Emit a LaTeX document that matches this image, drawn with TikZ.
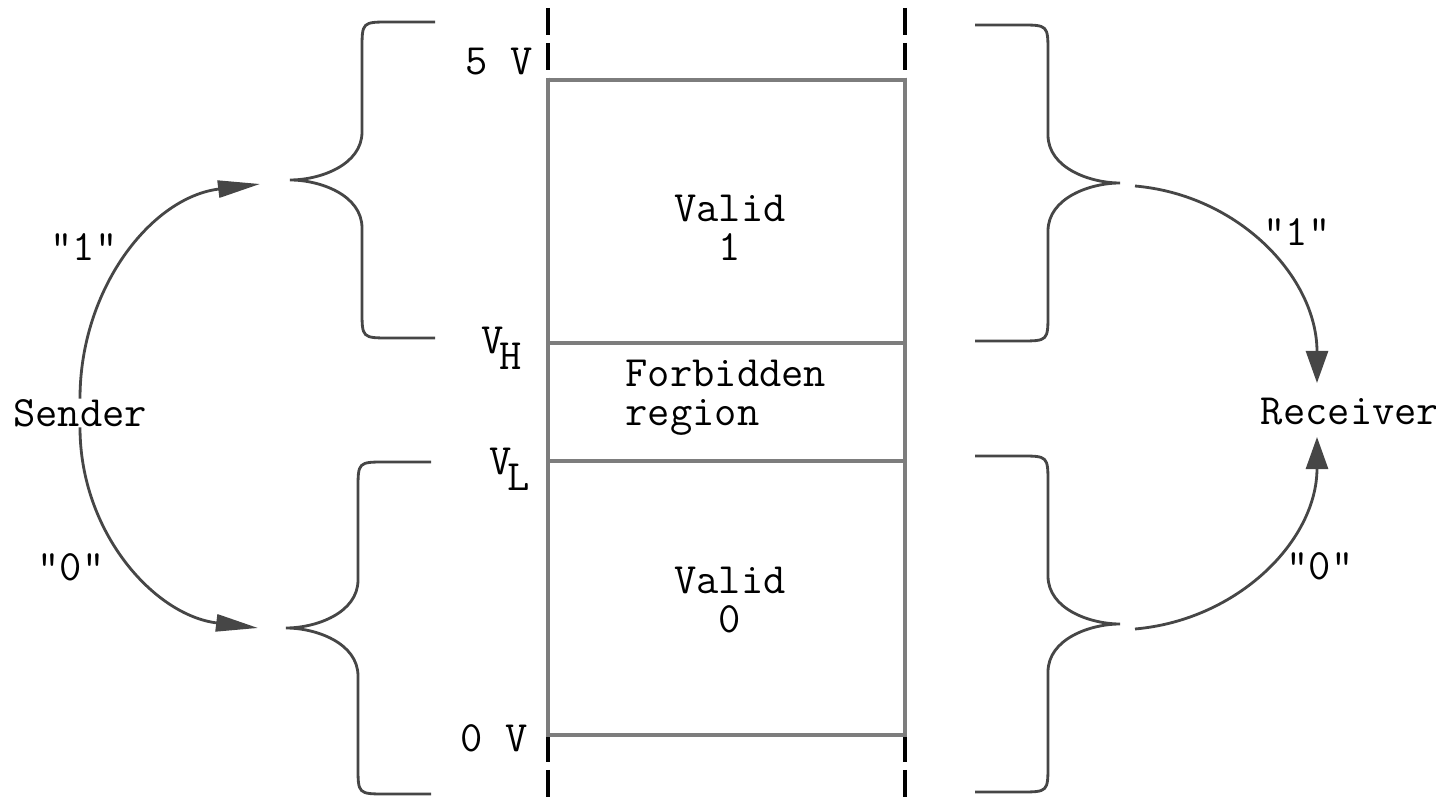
\documentclass[tikz,border=0pt]{standalone}
\usepackage{fontspec}
\usetikzlibrary{arrows.meta}
\definecolor{rulegray}{RGB}{125,125,125}
\definecolor{bracegray}{RGB}{70,70,70}
\newcommand{\sublevel}[2]{#1\kern-.1em\raisebox{-.85ex}{#2}}
\tikzset{
  lbl/.style={font=\ttfamily\fontsize{12.3}{11.2}\selectfont, inner sep=0pt, align=center},
  level/.style={rulegray, line width=1pt},
  guide/.style={black, line width=1pt, dash pattern=on 7.7pt off 2.2pt},
  curly/.style={bracegray, line width=0.8pt},
  sig/.style={bracegray, line width=0.8pt, -{Triangle[length=4.2mm,width=1.7mm]}},
  sigv/.style={bracegray, line width=0.8pt, -{Triangle[length=3.2mm,width=2.2mm]}},
  pics/brace/.style={code={
    \draw[curly] (145,#1) -- (100,#1) .. controls (72,#1) .. (72,{#1-28})
      -- (72,48) .. controls (72,15) and (30,0) .. (0,0)
      .. controls (30,0) and (72,-15) .. (72,-48)
      -- (72,{28-#1}) .. controls (72,-#1) .. (100,-#1) -- (145,-#1);
  }}
}
\begin{document}
\begin{tikzpicture}[x=0.01cm,y=0.01cm]
  \useasboundingbox (0,0) rectangle (1436,800);
  % voltage levels
  \coordinate (L5) at (548,720);
  \coordinate (R5) at (905,720);
  \coordinate (LH) at (548,457);
  \coordinate (RH) at (905,457);
  \coordinate (LL) at (548,339);
  \coordinate (RL) at (905,339);
  \coordinate (L0) at (548,65);
  \coordinate (R0) at (905,65);
  \draw[guide] (548,792) -- (L5);
  \draw[guide] (905,792) -- (R5);
  \draw[guide] (L0) -- (548,0);
  \draw[guide] (R0) -- (905,0);
  \draw[level] (L5) rectangle (R0);
  \draw[level] (LH) -- (RH);
  \draw[level] (LL) -- (RL);
  \node[lbl, anchor=east] (v5) at (533,738) {5 V};
  \node[lbl, anchor=east] (vh) at (522,452) {\sublevel{V}{H}};
  \node[lbl, anchor=east] (vl) at (530,331) {\sublevel{V}{L}};
  \node[lbl, anchor=east] (v0) at (528,62) {0 V};
  \node[lbl] (one) at (730,572) {Valid\\1};
  \node[lbl, anchor=west, align=left] (forb) at (625,402) {Forbidden\\region};
  \node[lbl] (zero) at (730,200) {Valid\\0};
  % braces
  \coordinate (bt1) at (290,620);
  \coordinate (bt0) at (286,172);
  \coordinate (rt1) at (1120,617);
  \coordinate (rt0) at (1120,176);
  \pic at (bt1) {brace=158};
  \pic at (bt0) {brace=166};
  \pic[xscale=-1] at (rt1) {brace=158};
  \pic[xscale=-1] at (rt0) {brace=168};
  % sender and receiver
  \node[lbl] (sender) at (80,387) {Sender};
  \node[lbl] (receiver) at (1350,388) {Receiver};
  \coordinate (s1) at (260,616);
  \coordinate (s0) at (258,172);
  \coordinate (r1s) at (1135,614);
  \coordinate (r0s) at (1135,171);
  \coordinate (r1) at (1317,417);
  \coordinate (r0) at (1317,363);
  \draw[sig] (sender.north) to[out=90,in=187] (s1);
  \draw[sig] (sender.south) to[out=-90,in=173] (s0);
  \draw[sigv] (r1s) to[out=-5,in=90] (r1);
  \draw[sigv] (r0s) to[out=5,in=-90] (r0);
  \node[lbl] (q1) at (84,553) {"1"};
  \node[lbl] (q0) at (71,233) {"0"};
  \node[lbl] (p1) at (1297,568) {"1"};
  \node[lbl] (p0) at (1320,234) {"0"};
\end{tikzpicture}
\end{document}
